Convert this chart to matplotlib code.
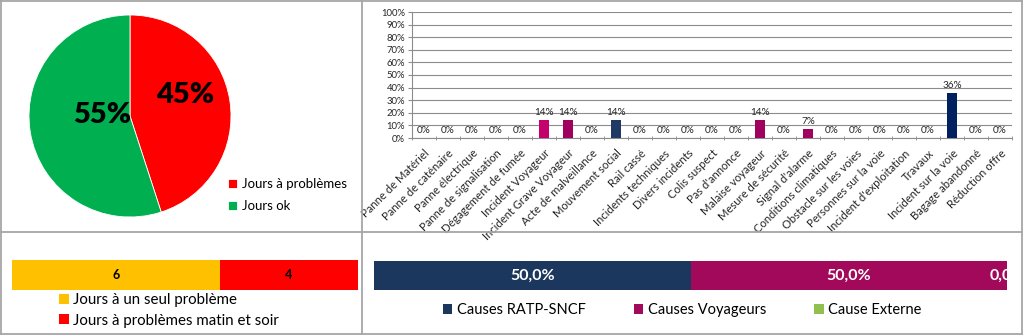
import matplotlib
matplotlib.use('Agg')
import matplotlib.pyplot as plt
from matplotlib.lines import Line2D
import numpy as np

W, H = 1024, 336
plt.rcParams['font.family'] = ['Lato', 'DejaVu Sans']

# ---------------- data ----------------
pie_labels = ['Jours à problèmes', 'Jours ok']
pie_values = [45, 55]
pie_colors = ['#FF0000', '#00B050']

causes = ['Panne de Matériel', 'Panne de caténaire', 'Panne électrique',
          'Panne de signalisation', 'Dégagement de fumée', 'Incident Voyageur',
          'Incident Grave Voyageur', 'Acte de malveillance', 'Mouvement social',
          'Rail cassé', 'Incidents techniques', 'Divers incidents', 'Colis suspect',
          "Pas d'annonce", 'Malaise voyageur', 'Mesure de sécurité',
          "Signal d'alarme", 'Conditions climatiques', 'Obstacle sur les voies',
          'Personnes sur la voie', "Incident d'exploitation", 'Travaux',
          'Incident sur la voie', 'Bagage abandonné', 'Réduction offre']
cause_values = [0, 0, 0, 0, 0, 0.143, 0.143, 0, 0.143, 0, 0, 0, 0,
                0, 0.143, 0, 0.071, 0, 0, 0, 0, 0, 0.357, 0, 0]
cause_colors = ['#1F3864', '#1F3864', '#1F3864', '#1F3864', '#1F3864',
                '#C4006C', '#A0005E', '#1F3864', '#1F3864', '#1F3864',
                '#1F3864', '#1F3864', '#A0005E', '#A0005E', '#A0005E',
                '#1F3864', '#A0005E', '#1F3864', '#1F3864', '#1F3864',
                '#1F3864', '#1F3864', '#002060', '#A0005E', '#1F3864']
yticks_pct = [0, 10, 20, 30, 40, 50, 60, 70, 80, 90, 100]

days_labels = ['Jours à un seul problème', 'Jours à problèmes matin et soir']
days_values = [6, 4]
days_colors = ['#FFC000', '#FF0000']

share_labels = ['Causes RATP-SNCF', 'Causes Voyageurs', 'Cause Externe']
share_values = [50.0, 50.0, 0.0]
share_colors = ['#1B375D', '#A2095B', '#92C050']

# ---------------- figure ----------------
fig = plt.figure(figsize=(W / 100, H / 100), dpi=100)
fig.patch.set_facecolor('white')


def px_axes(x0, y0, x1, y1):
    return fig.add_axes([x0 / W, 1 - y1 / H, (x1 - x0) / W, (y1 - y0) / H])


def fy(y):
    return 1 - y / H


# panel borders
border = dict(color='#A6A6A6', lw=1.3)
for (x0, y0, x1, y1) in [(1, 1, 1022, 1), (1, 1, 1, 334), (1022, 1, 1022, 334),
                         (1, 334, 1022, 334), (362, 1, 362, 334), (1, 232, 1022, 232)]:
    fig.add_artist(Line2D([x0 / W, x1 / W], [fy(y0), fy(y1)], **border))

# ---------------- pie ----------------
ax1 = px_axes(29, 15, 231, 217)
wedges, _ = ax1.pie(pie_values, colors=pie_colors, startangle=90, counterclock=False,
                    radius=1, wedgeprops=dict(linewidth=0.6, edgecolor='white'))
ax1.set_xlim(-1, 1)
ax1.set_ylim(-1, 1)
ax1.set_aspect('equal')
pie_text_pos = [(0.545, 0.21), (-0.28, 0.005)]
for v, (tx, ty) in zip(pie_values, pie_text_pos):
    ax1.text(tx, ty, f'{v}%', ha='center', va='center', fontsize=21,
             fontweight='heavy', color='black')
ax1.legend(wedges, pie_labels, loc='upper left', bbox_to_anchor=(228 / W, fy(178)),
           bbox_transform=fig.transFigure, frameon=False, fontsize=9.5,
           handlelength=0.7, handleheight=0.7, handletextpad=0.35, labelspacing=0.75,
           borderaxespad=0, borderpad=0)

# ---------------- bar chart ----------------
ax2 = px_axes(412, 12, 1012, 138)
x = np.arange(len(causes))
bars = ax2.bar(x, cause_values, width=0.4, color=cause_colors, zorder=3)
ax2.set_xlim(-0.5, len(causes) - 0.5)
ax2.set_ylim(0, 1)
ax2.set_yticks([p / 100 for p in yticks_pct])
ax2.set_yticklabels([f'{p}%' for p in yticks_pct], fontsize=6.8, color='#262626')
ax2.yaxis.grid(True, color='#8C8C8C', lw=0.8, zorder=0)
ax2.tick_params(axis='y', length=3, color='#8C8C8C', pad=2)
ax2.set_xticks(x)
ax2.set_xticklabels(causes, rotation=45, ha='right', rotation_mode='anchor',
                    fontsize=8.1, color='#262626')
ax2.tick_params(axis='x', which='major', length=0, pad=7)
ax2.set_xticks(np.arange(len(causes) + 1) - 0.5, minor=True)
ax2.tick_params(axis='x', which='minor', length=3, color='#8C8C8C', direction='inout')
for s in ['top', 'right']:
    ax2.spines[s].set_visible(False)
for s in ['left', 'bottom']:
    ax2.spines[s].set_color('#8C8C8C')
    ax2.spines[s].set_linewidth(0.8)
ax2.bar_label(bars, labels=[f'{round(v * 100):.0f}%' for v in cause_values],
              padding=2, fontsize=7.2, color='#262626')

# ---------------- days stacked bar ----------------
ax3 = px_axes(12, 260, 358, 290)
left = 0
for v, c, lab in zip(days_values, days_colors, days_labels):
    b = ax3.barh(0, v, left=left, height=1, color=c, label=lab)
    ax3.bar_label(b, labels=[f'{v}'], label_type='center', fontsize=9,
                  fontweight='bold', color='black')
    left += v
ax3.set_xlim(0, sum(days_values))
ax3.set_ylim(-0.5, 0.5)
ax3.axis('off')
ax3.legend(loc='upper left', bbox_to_anchor=(59 / W, fy(293)),
           bbox_transform=fig.transFigure, frameon=False, fontsize=10.8,
           handlelength=0.65, handleheight=0.65, handletextpad=0.3, labelspacing=0.45,
           borderaxespad=0, borderpad=0)

# ---------------- share stacked bar ----------------
ax4 = px_axes(374, 261, 1007, 290)
left = 0
for v, c, lab in zip(share_values, share_colors, share_labels):
    ax4.barh(0, v, left=left, height=1, color=c, label=lab)
    ax4.text(left + v / 2, 0, f'{v:.1f}%'.replace('.', ','), ha='center',
             va='center', fontsize=11.5, fontweight='bold', color='white', clip_on=True)
    left += v
ax4.set_xlim(0, sum(share_values))
ax4.set_ylim(-0.5, 0.5)
ax4.axis('off')
ax4.legend(loc='upper left', bbox_to_anchor=(443 / W, fy(303)), ncol=3,
           bbox_transform=fig.transFigure, frameon=False, fontsize=10.5,
           handlelength=0.65, handleheight=0.65, handletextpad=0.3, columnspacing=3.3,
           borderaxespad=0, borderpad=0)

fig.savefig('out.png', dpi=100, facecolor='white')
